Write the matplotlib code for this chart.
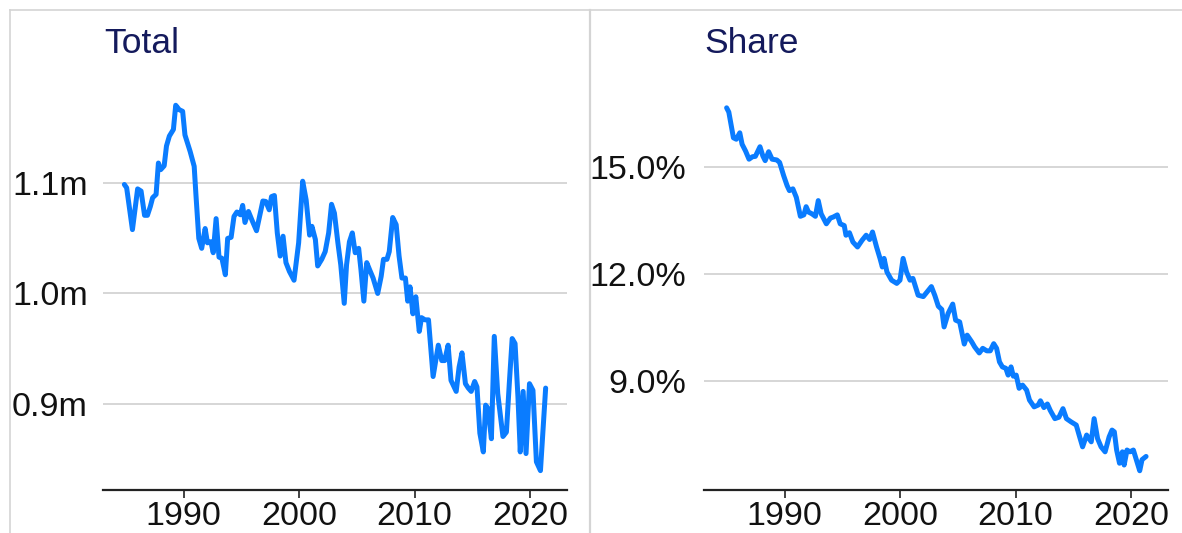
import matplotlib
matplotlib.use("Agg")
import matplotlib.pyplot as plt
from matplotlib.lines import Line2D

# ================================
# DATA
# ================================
years_total = [1984.85, 1985.05, 1985.55, 1986.0, 1986.3, 1986.6, 1986.85, 1987.1, 1987.3, 1987.6,
               1987.8, 1988.0, 1988.3, 1988.5, 1988.75, 1989.1, 1989.3, 1989.6, 1989.9, 1990.1,
               1990.55, 1990.9, 1991.05, 1991.3, 1991.55, 1991.85, 1992.05, 1992.35, 1992.55, 1992.8,
               1993.05, 1993.3, 1993.6, 1993.8, 1994.1, 1994.35, 1994.6, 1994.9, 1995.1, 1995.3,
               1995.6, 1995.95, 1996.3, 1996.6, 1996.85, 1997.1, 1997.4, 1997.6, 1997.85, 1998.1,
               1998.35, 1998.6, 1998.85, 1999.15, 1999.55, 1999.95, 2000.3, 2000.6, 2000.9, 2001.1,
               2001.4, 2001.6, 2001.95, 2002.25, 2002.55, 2002.8, 2003.05, 2003.35, 2003.6, 2003.9,
               2004.1, 2004.35, 2004.6, 2004.85, 2005.15, 2005.35, 2005.6, 2005.85, 2006.1, 2006.4,
               2006.8, 2007.1, 2007.3, 2007.6, 2007.8, 2008.1, 2008.4, 2008.65, 2008.9, 2009.2,
               2009.4, 2009.6, 2009.85, 2010.1, 2010.4, 2010.6, 2010.9, 2011.2, 2011.6, 2012.05,
               2012.35, 2012.6, 2012.9, 2013.15, 2013.6, 2013.85, 2014.1, 2014.4, 2014.65, 2014.9,
               2015.2, 2015.4, 2015.65, 2015.95, 2016.15, 2016.35, 2016.65, 2016.9, 2017.2, 2017.65,
               2017.95, 2018.2, 2018.45, 2018.7, 2018.95, 2019.15, 2019.4, 2019.65, 2019.95, 2020.25,
               2020.55, 2020.9, 2021.35]
total_m = [1.099, 1.096, 1.058, 1.095, 1.093, 1.071, 1.071, 1.079, 1.087, 1.090,
           1.1185, 1.1125, 1.116, 1.134, 1.143, 1.149, 1.171, 1.167, 1.1655, 1.144,
           1.129, 1.1155, 1.090, 1.050, 1.041, 1.059, 1.046, 1.047, 1.037, 1.068,
           1.033, 1.032, 1.017, 1.050, 1.051, 1.070, 1.074, 1.0715, 1.080, 1.0645,
           1.0745, 1.0655, 1.057, 1.0715, 1.084, 1.0836, 1.076, 1.088, 1.089, 1.055,
           1.034, 1.052, 1.028, 1.020, 1.012, 1.046, 1.102, 1.085, 1.053, 1.061,
           1.049, 1.025, 1.031, 1.038, 1.055, 1.081, 1.073, 1.046, 1.026, 0.991,
           1.026, 1.047, 1.055, 1.037, 1.041, 1.0215, 0.993, 1.028, 1.0215, 1.014,
           1.000, 1.0155, 1.031, 1.031, 1.038, 1.069, 1.0625, 1.034, 1.014, 1.014,
           0.993, 1.006, 0.9815, 0.997, 0.9655, 0.978, 0.976, 0.976, 0.9245, 0.953,
           0.939, 0.939, 0.953, 0.921, 0.911, 0.933, 0.946, 0.918, 0.914, 0.911,
           0.920, 0.915, 0.873, 0.856, 0.8985, 0.8955, 0.868, 0.961, 0.909, 0.870,
           0.874, 0.918, 0.959, 0.9545, 0.906, 0.856, 0.911, 0.8545, 0.918, 0.912,
           0.847, 0.839, 0.914]

years_share = [1984.96, 1985.15, 1985.55, 1985.8, 1986.1, 1986.3, 1986.6, 1986.9, 1987.2, 1987.45,
               1987.85, 1988.1, 1988.3, 1988.6, 1988.9, 1989.3, 1989.55, 1989.9, 1990.2, 1990.4,
               1990.7, 1991.0, 1991.35, 1991.65, 1991.85, 1992.05, 1992.35, 1992.65, 1992.9, 1993.15,
               1993.6, 1993.95, 1994.2, 1994.55, 1994.8, 1995.15, 1995.3, 1995.6, 1995.9, 1996.3,
               1996.7, 1997.05, 1997.35, 1997.6, 1997.95, 1998.25, 1998.45, 1998.6, 1998.85, 1999.25,
               1999.7, 1999.98, 2000.25, 2000.55, 2000.85, 2001.1, 2001.55, 2002.0, 2002.35, 2002.7,
               2003.0, 2003.3, 2003.6, 2003.8, 2004.15, 2004.55, 2004.8, 2005.15, 2005.55, 2005.8,
               2006.2, 2006.45, 2006.85, 2007.15, 2007.5, 2007.8, 2008.1, 2008.35, 2008.6, 2008.85,
               2009.15, 2009.35, 2009.6, 2009.8, 2010.05, 2010.3, 2010.6, 2010.95, 2011.2, 2011.6,
               2011.95, 2012.15, 2012.45, 2012.75, 2013.0, 2013.4, 2013.75, 2014.1, 2014.4, 2014.8,
               2015.25, 2015.5, 2015.8, 2016.15, 2016.55, 2016.8, 2017.1, 2017.4, 2017.75, 2018.1,
               2018.35, 2018.55, 2018.75, 2019.0, 2019.25, 2019.4, 2019.65, 2019.9, 2020.2, 2020.55,
               2020.75, 2020.95, 2021.3]
share_pct = [16.66, 16.54, 15.82, 15.78, 15.96, 15.64, 15.45, 15.22, 15.29, 15.30,
             15.57, 15.31, 15.18, 15.43, 15.22, 15.20, 15.13, 14.76, 14.48, 14.34,
             14.39, 14.15, 13.62, 13.66, 13.89, 13.74, 13.69, 13.62, 14.06, 13.69,
             13.41, 13.57, 13.60, 13.66, 13.41, 13.36, 13.09, 13.16, 12.90, 12.76,
             12.95, 13.09, 12.97, 13.18, 12.76, 12.44, 12.20, 12.44, 12.06, 11.83,
             11.74, 11.83, 12.44, 12.06, 11.83, 11.88, 11.41, 11.37, 11.51, 11.65,
             11.40, 11.10, 11.01, 10.52, 10.90, 11.16, 10.71, 10.66, 10.04, 10.29,
             10.10, 9.96, 9.79, 9.92, 9.85, 9.85, 10.05, 9.92, 9.54, 9.40,
             9.36, 9.17, 9.40, 9.14, 9.17, 8.80, 8.89, 8.75, 8.47, 8.28,
             8.33, 8.45, 8.26, 8.36, 8.18, 7.95, 7.99, 8.23, 7.95, 7.86,
             7.77, 7.49, 7.16, 7.49, 7.30, 7.95, 7.39, 7.16, 7.02, 7.44,
             7.63, 7.58, 7.07, 6.70, 7.02, 6.65, 7.07, 7.02, 7.07, 6.70,
             6.49, 6.80, 6.89]

x_ticks = [1990, 2000, 2010, 2020]
total_ticks = [0.9, 1.0, 1.1]
share_ticks = [9.0, 12.0, 15.0]

# ================================
# STYLE
# ================================
plt.rcParams['font.family'] = ['Liberation Sans', 'DejaVu Sans']
W, H = 1182, 533
line_color = "#0a7cff"
title_color = "#141a5c"
frame_color = "#d4d4d4"
fs = 24.5


def px(x0, x1, y0, y1):
    # pixel box (top-left origin) -> figure fraction rect
    return [x0 / W, 1 - y1 / H, (x1 - x0) / W, (y1 - y0) / H]


def style_axis(ax, ticks, fmt, ylim, pad):
    ax.set_xlim(1983.0, 2023.2)
    ax.set_ylim(*ylim)
    ax.set_xticks(x_ticks)
    ax.set_yticks(ticks)
    ax.set_yticklabels([fmt.format(t) for t in ticks])
    for s in ["top", "right", "left"]:
        ax.spines[s].set_visible(False)
    ax.spines["bottom"].set_color("#222222")
    ax.spines["bottom"].set_linewidth(1.6)
    ax.tick_params(axis="x", length=6, width=1.2, color="#222222",
                   labelsize=fs, pad=2, labelcolor="#111111")
    ax.tick_params(axis="y", length=0, labelsize=fs, pad=pad, labelcolor="#111111")
    ax.grid(axis="y", color="#cccccc", linewidth=1.1)
    ax.set_axisbelow(True)


fig = plt.figure(figsize=(W / 100, H / 100), dpi=100)

# ================================
# LEFT PANEL: TOTAL
# ================================
ax1 = fig.add_axes(px(103, 567, 75, 490))
ax1.plot(years_total, total_m, color=line_color, linewidth=3.6,
         solid_joinstyle="round", solid_capstyle="round")
style_axis(ax1, total_ticks, "{:.1f}m", (0.8214, 1.1985), 11)

# ================================
# RIGHT PANEL: SHARE
# ================================
ax2 = fig.add_axes(px(704, 1168, 75, 490))
ax2.plot(years_share, share_pct, color=line_color, linewidth=3.6,
         solid_joinstyle="round", solid_capstyle="round")
style_axis(ax2, share_ticks, "{:.1f}%", (5.95, 17.58), 13)

fig.text(104 / W, 1 - 43 / H, "Total", fontsize=25.5, color=title_color, va="center", ha="left")
fig.text(704 / W, 1 - 43 / H, "Share", fontsize=25.5, color=title_color, va="center", ha="left")

# frame lines of the surrounding panel
fig.add_artist(Line2D([10 / W, 1], [1 - 10 / H, 1 - 10 / H], color=frame_color, linewidth=1.2))
fig.add_artist(Line2D([10 / W, 10 / W], [0, 1 - 10 / H], color=frame_color, linewidth=1.2))
fig.add_artist(Line2D([590 / W, 590 / W], [0, 1 - 10 / H], color=frame_color, linewidth=1.6))

fig.savefig("out.png", dpi=100)
